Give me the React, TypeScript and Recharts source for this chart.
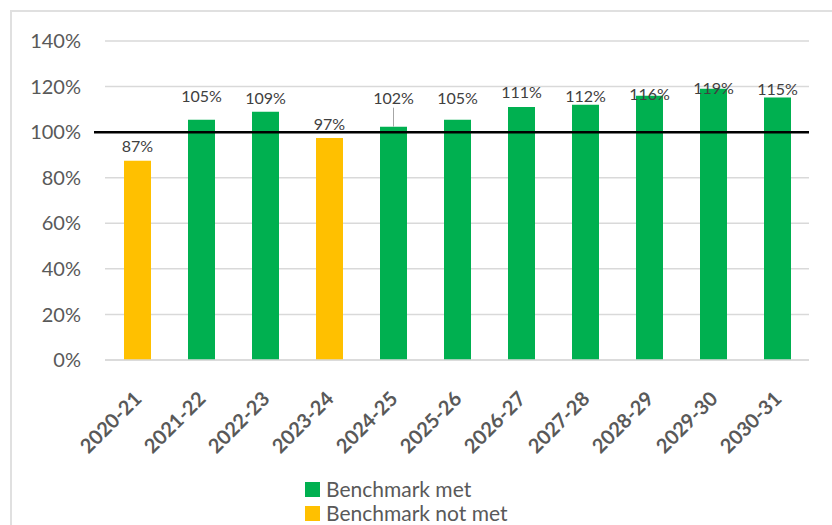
import { BarChart, Bar, Cell, XAxis, YAxis, CartesianGrid, ReferenceLine, LabelList, Legend } from 'recharts';

/* 연도별 벤치마크 달성률 — 100% 기준선 위/아래로 색 구분 */

const years = ['2020-21', '2021-22', '2022-23', '2023-24', '2024-25', '2025-26', '2026-27', '2027-28', '2028-29', '2029-30', '2030-31'];
const ratio = [0.874, 1.054, 1.09, 0.974, 1.024, 1.054, 1.11, 1.12, 1.16, 1.19, 1.152];
const yTicks = [0, 0.2, 0.4, 0.6, 0.8, 1.0, 1.2, 1.4];
const benchmark = 1.0;

const MET = '#00b050';
const NOT_MET = '#ffc000';
const GRID = '#d9d9d9';
const FONT = 'Lato, "Open Sans", sans-serif';

// 값 라벨 위치 보정(원본 엑셀에서 손으로 옮긴 라벨들) — 막대 윗면에서 글자 중심까지 px
const LABEL_LIFT = [15, 24, 14, 15, 29, 22, 16, 9, 2, 1, 9];

const rows = years.map((y, i) => ({ year: y, value: ratio[i] }));
const pct = (v: number) => `${Math.round(v * 100)}%`;

const XTick = (p: any) => (
  <text
    x={p.x + 6}
    y={p.y + 32}
    transform={`rotate(-45 ${p.x + 6} ${p.y + 32})`}
    textAnchor="end"
    fontFamily={FONT}
    fontWeight={700}
    fontSize={20}
    fill="#595959"
  >
    {p.payload.value}
  </text>
);

const ValueLabel = (p: any) => {
  const cx = p.x + p.width / 2;
  const lift = LABEL_LIFT[p.index] ?? 14;
  const ty = p.y - lift;
  return (
    <g>
      {lift > 26 && <line x1={cx} x2={cx} y1={ty + 10} y2={p.y} stroke="#a6a6a6" strokeWidth={1} />}
      <text x={cx} y={ty} textAnchor="middle" dominantBaseline="central" fontFamily={FONT} fontSize={16} fill="#404040">
        {pct(p.value)}
      </text>
    </g>
  );
};

const LegendBox = () => (
  <div style={{ fontFamily: FONT, fontSize: 21, color: '#595959', lineHeight: '24px', height: 48 }}>
    {[
      ['Benchmark met', MET],
      ['Benchmark not met', NOT_MET],
    ].map(([name, c]) => (
      <div key={name} style={{ display: 'flex', alignItems: 'center' }}>
        <span style={{ display: 'inline-block', width: 15, height: 15, background: c, marginRight: 6 }} />
        {name}
      </div>
    ))}
  </div>
);

export default function App() {
  return (
    <div style={{ position: 'fixed', left: 0, top: 0, width: 832, height: 525, overflow: 'hidden', background: '#fff' }}>
      <div style={{ position: 'absolute', left: 10, top: 10, width: 900, height: 600, border: '2px solid #e0e0e0' }} />
      <div style={{ position: 'absolute', left: 0, top: 0 }}>
        <BarChart width={832} height={525} data={rows} margin={{ top: 41, right: 23, left: 10, bottom: 27 }}>
          <CartesianGrid vertical={false} stroke={GRID} strokeWidth={1.5} />
          <XAxis dataKey="year" height={90} interval={0} tickLine={false} axisLine={{ stroke: GRID, strokeWidth: 1.5 }} tick={<XTick />} />
          <YAxis
            width={95}
            domain={[0, 1.4]}
            ticks={yTicks}
            tickFormatter={pct}
            axisLine={false}
            tickLine={false}
            tickSize={0}
            tickMargin={24}
            tick={{ fontFamily: FONT, fontSize: 20, fill: '#595959' }}
          />
          <Legend
            verticalAlign="bottom"
            content={<LegendBox />}
            wrapperStyle={{ left: 305, top: 477, bottom: 'auto', width: 'auto' }}
          />
          <Bar dataKey="value" barSize={27} isAnimationActive={false}>
            {rows.map((r, i) => (
              <Cell key={i} fill={r.value >= benchmark ? MET : NOT_MET} />
            ))}
            <LabelList dataKey="value" content={<ValueLabel />} />
          </Bar>
          <ReferenceLine
            y={benchmark}
            ifOverflow="visible"
            shape={(p: any) => <line x1={p.x1 - 11} y1={p.y1} x2={p.x2} y2={p.y2} stroke="#000" strokeWidth={2.5} />}
          />
        </BarChart>
      </div>
    </div>
  );
}
